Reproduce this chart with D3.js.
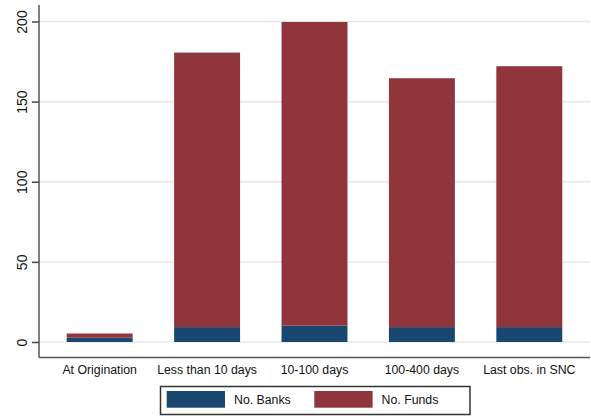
<!DOCTYPE html>
<html lang="en">
<meta charset="utf-8">
<script src="https://d3js.org/d3.v7.min.js"></script>
<head>
    <style type="text/css">
        body { margin: 0; background: white; }
        text { font-family: "Liberation Sans", Arial, sans-serif; fill: #111; }
    </style>
</head>
<body>
    <div id="my_dataviz"></div>
    <script>
        // data
        const categories = ["At Origination", "Less than 10 days", "10-100 days", "100-400 days", "Last obs. in SNC"];
        const banks = [2.7, 9.3, 10.2, 9.3, 9.3];
        const funds = [2.6, 171.3, 189.5, 155.3, 162.8];
        const yTicks = [0, 50, 100, 150, 200];
        const seriesNames = ["No. Banks", "No. Funds"];
        const colors = ["#1a476f", "#90353b"];

        const width = 591, height = 416;
        const plot = { left: 39, right: 590, top: 5, bottom: 357.5 };

        const svg = d3.select("#my_dataviz")
            .append("svg")
            .attr("width", width)
            .attr("height", height);

        const x = d3.scaleBand()
            .domain(categories)
            .range([plot.left, plot.right])
            .paddingInner(0.386)
            .paddingOuter(0.258);

        const y = d3.scaleLinear()
            .domain([0, 200])
            .range([342, 21.5]);

        // gridlines
        svg.append("g")
            .selectAll("line")
            .data(yTicks)
            .join("line")
            .attr("x1", plot.left)
            .attr("x2", plot.right)
            .attr("y1", d => y(d))
            .attr("y2", d => y(d))
            .attr("stroke", "#e8e8e8")
            .attr("stroke-width", 1.5);

        // stacked bars
        const rows = categories.map((c, i) => ({ cat: c, banks: banks[i], funds: funds[i] }));
        const stack = d3.stack().keys(["banks", "funds"])(rows);

        svg.append("g")
            .selectAll("g")
            .data(stack)
            .join("g")
            .attr("fill", (d, i) => colors[i])
            .selectAll("rect")
            .data(d => d)
            .join("rect")
            .attr("x", d => x(d.data.cat))
            .attr("width", x.bandwidth())
            .attr("y", d => y(d[1]))
            .attr("height", d => y(d[0]) - y(d[1]));

        // Y axis
        const yAxis = svg.append("g")
            .attr("transform", `translate(${plot.left},0)`)
            .call(d3.axisLeft(y).tickValues(yTicks).tickSize(7).tickPadding(0).tickFormat(d3.format("d")));
        yAxis.select(".domain").remove();
        yAxis.selectAll(".tick line").attr("stroke", "#444").attr("stroke-width", 1.5);
        yAxis.selectAll(".tick text")
            .attr("x", null).attr("dy", null)
            .attr("transform", "translate(-12.5,0) rotate(-90)")
            .attr("text-anchor", "middle")
            .style("font-size", "14px")
            .style("font-family", "Liberation Sans, Arial, sans-serif");

        svg.append("line")
            .attr("x1", plot.left).attr("x2", plot.left)
            .attr("y1", plot.top).attr("y2", plot.bottom)
            .attr("stroke", "#555").attr("stroke-width", 1.5);

        // X axis
        svg.append("line")
            .attr("x1", plot.left).attr("x2", plot.right)
            .attr("y1", plot.bottom).attr("y2", plot.bottom)
            .attr("stroke", "#555").attr("stroke-width", 1.5);

        svg.append("g")
            .selectAll("text")
            .data(categories)
            .join("text")
            .attr("x", d => x(d) + x.bandwidth() / 2)
            .attr("y", 374)
            .attr("text-anchor", "middle")
            .style("font-size", "12.3px")
            .text(d => d);

        // legend
        const legend = svg.append("g");
        legend.append("rect")
            .attr("x", 160.5).attr("y", 386.5)
            .attr("width", 309.5).attr("height", 28)
            .attr("fill", "white")
            .attr("stroke", "#333").attr("stroke-width", 1.5);

        const legendX = [166.7, 314.3];
        seriesNames.forEach((name, i) => {
            legend.append("rect")
                .attr("x", legendX[i]).attr("y", 391)
                .attr("width", 58.3).attr("height", 16.7)
                .attr("fill", colors[i]);
            legend.append("text")
                .attr("x", legendX[i] + 67.3).attr("y", 403.5)
                .style("font-size", "12.3px")
                .text(name);
        });
    </script>
</body>
</html>
